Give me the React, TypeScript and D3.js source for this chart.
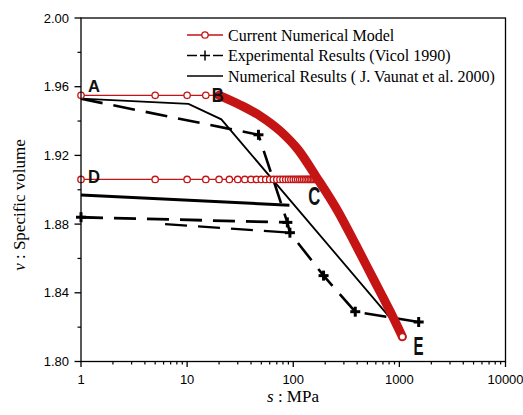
import React from "react";
import * as d3 from "d3";

// ---------- data ----------
const xMajorTicks = [1, 10, 100, 1000, 10000];
const yMajorTicks = [1.8, 1.84, 1.88, 1.92, 1.96, 2.0];
const yMinorTicks = [1.82, 1.86, 1.9, 1.94, 1.98];

// Current numerical model (red)
const modelABs = [1, 5, 10, 15, 20];
const modelABv = [1.955, 1.955, 1.955, 1.955, 1.955];
const modelDCs = [1, 5, 10, 15, 20, 25, 30, 35, 40, 45, 50, 55, 60, 65, 70, 75, 80, 85, 90, 95, 100, 105, 110, 115, 120, 125, 130, 135, 140, 145, 150, 155, 160, 165];
const modelDCv = 1.906;
const modelBEs = [20, 31.6, 48.8, 75.4, 111.5, 164.8, 265.7, 393, 568.6, 822.6, 1067];
const modelBEv = [1.955, 1.9494, 1.943, 1.9342, 1.9232, 1.9075, 1.8871, 1.8673, 1.8481, 1.8289, 1.8144];

// Experimental results (Vicol 1990)
const expUpperS = [1, 47, 88, 93, 193, 384, 1520];
const expUpperV = [1.953, 1.932, 1.881, 1.875, 1.85, 1.829, 1.823];
const expUpperMarks = [47, 88, 93, 193, 384, 1520];
const expLowerS = [1, 88];
const expLowerV = [1.884, 1.881];
const expLowerMarks = [1];
const expLower2S = [6.2, 93];
const expLower2V = [1.88, 1.875];

// Numerical results (J. Vaunat et al. 2000)
const vauUpperS = [1, 10.3, 21, 830];
const vauUpperV = [1.953, 1.95, 1.941, 1.825];
const vauLowerS = [1, 92];
const vauLowerV = [1.897, 1.891];

// point labels
const pointLabels = ["A", "B", "C", "D", "E"];
const pointLabelS = [1.164, 17.1, 138.5, 1.164, 1355];
const pointLabelV = [1.9569, 1.9513, 1.8911, 1.9038, 1.8038];
const pointLabelSize = [17, 21, 25, 18, 25];
const pointLabelWidth = [12, 12, 12, 12, 10];

const legendLabels = [
  "Current Numerical Model",
  "Experimental Results (Vicol 1990)",
  "Numerical Results ( J. Vaunat et al. 2000)",
];

const RED = "#c41414";

export default function App() {
  const W = 523, H = 415;
  const x = d3.scaleLog().domain([1, 10000]).range([81, 505.5]);
  const y = d3.scaleLinear().domain([1.8, 2.0]).range([361.5, 18]);
  const [x0, x1] = x.range();
  const [y0, y1] = y.range();

  const line = d3.line<[number, number]>().x(d => x(d[0])).y(d => y(d[1]));
  const smooth = d3.line<[number, number]>().x(d => x(d[0])).y(d => y(d[1])).curve(d3.curveMonotoneX);
  const zip = (s: number[], v: number[] | number) => s.map((si, i) => [si, Array.isArray(v) ? v[i] : v] as [number, number]);

  const xMinor: number[] = [];
  for (let d = 1; d < 10000; d *= 10) for (let k = 2; k <= 9; k++) xMinor.push(d * k);

  const plus = (cx: number, cy: number, key: string, s = 5) => (
    <g key={key} stroke="#000" strokeWidth={3}>
      <line x1={cx - s} x2={cx + s} y1={cy} y2={cy} />
      <line x1={cx} x2={cx} y1={cy - s} y2={cy + s} />
    </g>
  );
  const circ = (cx: number, cy: number, key: string) => (
    <circle key={key} cx={cx} cy={cy} r={3.2} fill="#fff" stroke={RED} strokeWidth={1.3} />
  );

  const dash = "22 11";
  const lastBE = modelBEs.length - 1;

  return (
    <svg width={W} height={H} style={{ position: "absolute", left: 0, top: 0, background: "#fff" }}
      fontFamily="'Liberation Sans', Arial, sans-serif">
      {/* Experimental dashed lines */}
      <path d={line(zip(expUpperS, expUpperV)) || ""} fill="none" stroke="#000" strokeWidth={2.6} strokeDasharray={dash} />
      <path d={line(zip(expLowerS, expLowerV)) || ""} fill="none" stroke="#000" strokeWidth={2.8} strokeDasharray={dash} />
      <path d={line(zip(expLower2S, expLower2V)) || ""} fill="none" stroke="#000" strokeWidth={2.4} strokeDasharray={dash} />
      {expUpperMarks.map((s, i) => plus(x(s), y(expUpperV[expUpperS.indexOf(s)]), "pu" + i))}
      {expLowerMarks.map((s, i) => plus(x(s), y(expLowerV[expLowerS.indexOf(s)]), "pl" + i))}

      {/* Vaunat solid lines */}
      <path d={line(zip(vauUpperS, vauUpperV)) || ""} fill="none" stroke="#000" strokeWidth={1.8} />
      <path d={line(zip(vauLowerS, vauLowerV)) || ""} fill="none" stroke="#000" strokeWidth={3} />

      {/* Current model */}
      <path d={line(zip(modelABs, modelABv)) || ""} fill="none" stroke={RED} strokeWidth={1.3} />
      <path d={line(zip(modelDCs, modelDCv)) || ""} fill="none" stroke={RED} strokeWidth={1.3} />
      {modelABs.map((s, i) => circ(x(s), y(modelABv[i]), "ab" + i))}
      {modelDCs.map((s, i) => circ(x(s), y(modelDCv), "dc" + i))}
      <path d={smooth(zip(modelBEs, modelBEv)) || ""} fill="none" stroke={RED} strokeWidth={9} strokeLinecap="round" />
      {circ(x(modelBEs[lastBE]), y(modelBEv[lastBE]), "end")}

      {/* Point labels */}
      {pointLabels.map((t, i) => (
        <text key={t} x={x(pointLabelS[i])} y={y(pointLabelV[i])} fontSize={pointLabelSize[i]} fontWeight="bold"
          textLength={pointLabelWidth[i]} lengthAdjust="spacingAndGlyphs" fill="#111">{t}</text>
      ))}

      {/* Frame */}
      <rect x={x0} y={y1} width={x1 - x0} height={y0 - y1} fill="none" stroke="#000" strokeWidth={1.3} />

      {/* X axis ticks */}
      {xMinor.map((t, i) => (
        <line key={"xm" + i} x1={x(t)} x2={x(t)} y1={y0} y2={y0 + 3} stroke="#000" strokeWidth={1.2} />
      ))}
      {xMajorTicks.map((t, i) => (
        <g key={"xM" + i}>
          <line x1={x(t)} x2={x(t)} y1={y0} y2={y0 + 5.5} stroke="#000" strokeWidth={1.3} />
          <text x={x(t)} y={384} fontSize={13} textAnchor="middle" fill="#000">{String(t)}</text>
        </g>
      ))}
      {/* Y axis ticks */}
      {yMinorTicks.map((t, i) => (
        <line key={"ym" + i} x1={x0 - 3.5} x2={x0} y1={y(t)} y2={y(t)} stroke="#000" strokeWidth={1.2} />
      ))}
      {yMajorTicks.map((t, i) => (
        <g key={"yM" + i}>
          <line x1={x0 - 6.5} x2={x0} y1={y(t)} y2={y(t)} stroke="#000" strokeWidth={1.3} />
          <text x={69} y={y(t) + 4.5} fontSize={13} textAnchor="end" fill="#000">{t.toFixed(2)}</text>
        </g>
      ))}

      {/* Axis titles */}
      <text transform={`translate(25,205) rotate(-90)`} textAnchor="middle" fontSize={17}
        fontFamily="'Liberation Serif', 'Times New Roman', serif" fill="#000">
        <tspan fontStyle="italic">ν</tspan> : Specific volume
      </text>
      <text x={293} y={402} textAnchor="middle" fontSize={17}
        fontFamily="'Liberation Serif', 'Times New Roman', serif" fill="#000">
        <tspan fontStyle="italic">s</tspan> : MPa
      </text>

      {/* Legend */}
      <g fontFamily="'Liberation Serif', 'Times New Roman', serif" fontSize={16}>
        <line x1={187} x2={223} y1={35} y2={35} stroke={RED} strokeWidth={1.3} />
        {circ(205, 35, "lg0")}
        <line x1={187} x2={197} y1={55.5} y2={55.5} stroke="#000" strokeWidth={1.5} />
        <line x1={213} x2={223} y1={55.5} y2={55.5} stroke="#000" strokeWidth={1.5} />
        <g stroke="#000" strokeWidth={1.5}>
          <line x1={200} x2={210} y1={55.5} y2={55.5} />
          <line x1={205} x2={205} y1={50.5} y2={60.5} />
        </g>
        <line x1={187} x2={223} y1={76} y2={76} stroke="#000" strokeWidth={1.5} />
        {legendLabels.map((t, i) => (
          <text key={t} x={228} y={40.5 + i * 20.5} fill="#000">{t}</text>
        ))}
      </g>
    </svg>
  );
}
